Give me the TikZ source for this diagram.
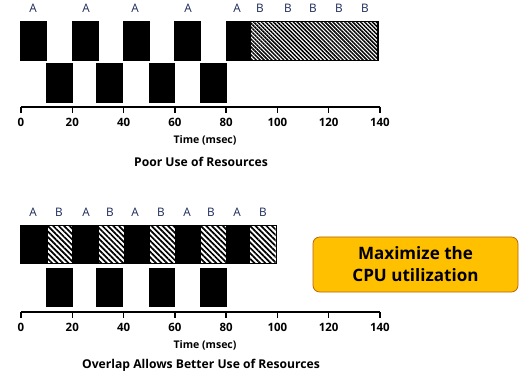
\documentclass[tikz,border=0pt]{standalone}
\usepackage{fontspec}
\setmainfont{Open Sans}
\usetikzlibrary{patterns.meta}
\definecolor{lbl}{HTML}{1A2858}
\definecolor{orfill}{HTML}{FFC000}
\definecolor{ordraw}{HTML}{B8620A}
\begin{document}
\begin{tikzpicture}[x=0.75pt,y=0.75pt,
  blk/.style={fill=black},
  finehatch/.style={pattern={Lines[angle=-45,distance=2.1pt,line width=1.1pt]}},
  coarsehatch/.style={pattern={Lines[angle=-45,distance=2.9pt,line width=1.3pt]}},
  lab/.style={font=\fontsize{8.8}{10}\selectfont, text=lbl, inner sep=0pt},
  ticklab/.style={font=\bfseries\fontsize{8.6}{10}\selectfont, inner sep=0pt},
  axl/.style={font=\bfseries\fontsize{7.9}{9}\selectfont, inner sep=0pt},
  ttl/.style={font=\bfseries\fontsize{9.1}{11}\selectfont, inner sep=0pt},
  axis/.style={line width=1.1pt}]
\useasboundingbox (0,0) rectangle (532,386);

% ---------- top chart ----------
\foreach \a/\b in {20/47,72/99,123/150,174/201,226/250}
  \fill[blk] (\a,325) rectangle (\b,365);
\foreach \a/\b in {46/73,96/123,149/175,200/227}
  \fill[blk] (\a,283) rectangle (\b,323);
\draw[line width=0.9pt, finehatch] (250,325.4) rectangle (378,364.6);

\foreach \x/\n in {33/a1,86/a2,135/a3,188/a4,237/a5}
  \node[lab] (top\n) at (\x,378) {A};
\foreach \x/\n in {260/b1,288/b2,313/b3,339/b4,365/b5}
  \node[lab] (top\n) at (\x,378) {B};

\coordinate (tax0) at (21,279);
\coordinate (tax1) at (380,279);
\draw[axis] (tax0) -- (tax1);
\foreach \t in {0,20,...,140}{
  \draw[axis] ({21+2.564*\t},279) -- ({21+2.564*\t},273);
  \node[ticklab] (ttick\t) at ({21+2.564*\t},264) {\t};
}
\node[axl] (ttime) at (205,246) {Time (msec)};
\node[ttl] (ttitle) at (201,224) {Poor Use of Resources};

% ---------- bottom chart ----------
\fill[blk] (20,122) rectangle (277,161);
\foreach \a/\b in {48/72,99/124,150/175,201/226,250/275.5}
  \fill[white] (\a,123.5) rectangle (\b,159.5);
\foreach \a/\b in {48/72,99/124,150/175,201/226,250/275.5}
  \fill[coarsehatch] (\a,123.5) rectangle (\b,159.5);
\foreach \a/\b in {46/73,96/123,149/175,200/227}
  \fill[blk] (\a,79) rectangle (\b,118);

\foreach \x/\n in {33/a1,86/a2,135/a3,187/a4,237/a5}
  \node[lab] (bot\n) at (\x,174) {A};
\foreach \x/\n in {59/b1,110/b2,161/b3,211/b4,263/b5}
  \node[lab] (bot\n) at (\x,174) {B};

\coordinate (bax0) at (21,74);
\coordinate (bax1) at (380,74);
\draw[axis] (bax0) -- (bax1);
\foreach \t in {0,20,...,140}{
  \draw[axis] ({21+2.564*\t},74) -- ({21+2.564*\t},68);
  \node[ticklab] (btick\t) at ({21+2.564*\t},59) {\t};
}
\node[axl] (btime) at (205,41) {Time (msec)};
\node[ttl] (btitle) at (201,21) {Overlap Allows Better Use of Resources};

% ---------- callout ----------
\node[draw=ordraw, fill=orfill, line width=0.6pt, rounded corners=5pt,
      minimum width=153.75pt, minimum height=41.25pt, align=center,
      font=\bfseries\fontsize{12.8}{16.5}\selectfont] (cpu) at (415.5,121.5)
      {Maximize the\\CPU utilization};
\end{tikzpicture}
\end{document}
